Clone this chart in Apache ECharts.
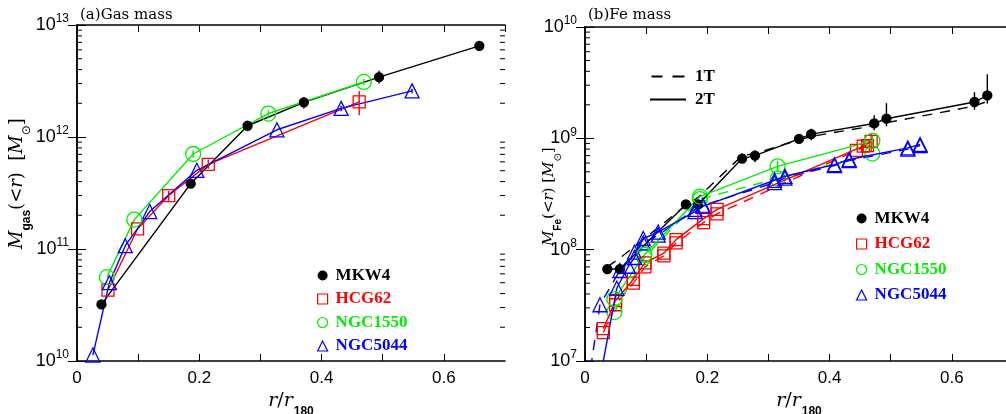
<!DOCTYPE html>
<html><head><meta charset="utf-8">
<script src="https://cdn.jsdelivr.net/npm/echarts@6/dist/echarts.min.js"></script>
<style>html,body{margin:0;padding:0;background:#fff}#c{width:1006px;height:414px}</style>
</head><body><div id="c"></div>
<script>
// ---------------- tick labels ----------------
const xTickLabels = ['0', '0.2', '0.4', '0.6'];
const gasExponents = [10, 11, 12, 13];
const feExponents = [7, 8, 9, 10];
const seriesNames = ['MKW4', 'HCG62', 'NGC1550', 'NGC5044'];

// ---------------- (a) gas mass ----------------
const gasMKW4_r = [0.040, 0.186, 0.279, 0.371, 0.494, 0.658];
const gasMKW4_m = [3.2e10, 3.83e11, 1.26e12, 2.04e12, 3.42e12, 6.5e12];
const gasHCG62_r = [0.0507, 0.099, 0.150, 0.2147, 0.4615];
const gasHCG62_m = [4.3e10, 1.51e11, 3.0e11, 5.7e11, 2.06e12];
const gasNGC1550_r = [0.049, 0.0937, 0.190, 0.313, 0.469];
const gasNGC1550_m = [5.6e10, 1.83e11, 7.05e11, 1.62e12, 3.1e12];
const gasNGC5044_r = [0.026, 0.053, 0.079, 0.119, 0.196, 0.327, 0.432, 0.548];
const gasNGC5044_m = [1.13e10, 5.0e10, 1.07e11, 2.16e11, 5.04e11, 1.16e12, 1.8e12, 2.58e12];
// error bars [r, low, high]
const gasErrMKW4 = [[0.279, 1.18e12, 1.35e12], [0.371, 1.8e12, 2.28e12], [0.494, 3.0e12, 3.9e12]];
const gasErrHCG62 = [[0.4615, 1.56e12, 2.58e12], [0.150, 2.7e11, 3.3e11], [0.2147, 5.2e11, 6.3e11]];
const gasErrNGC1550 = [[0.469, 2.9e12, 3.3e12], [0.313, 1.5e12, 1.75e12], [0.190, 6.5e11, 7.6e11]];
const gasErrNGC5044 = [[0.548, 2.45e12, 2.7e12], [0.432, 1.7e12, 1.9e12]];

// ---------------- (b) Fe mass ----------------
const feMKW4_r = [0.0365, 0.057, 0.165, 0.185, 0.257, 0.278, 0.350, 0.370, 0.473, 0.493, 0.637, 0.658];
const feMKW4_2T = [6.7e7, 6.7e7, 2.55e8, 2.55e8, 6.58e8, 7.0e8, 9.9e8, 1.09e9, 1.36e9, 1.5e9, 2.12e9, 2.43e9];
const feMKW4_1T = [7.0e7, 8.4e7, 2.5e8, 2.95e8, 7.0e8, 7.3e8, 9.7e8, 1.04e9, 1.3e9, 1.38e9, 1.95e9, 2.15e9];
const feErrMKW4 = [[0.257, 6.1e8, 7.3e8], [0.278, 6.1e8, 7.8e8], [0.350, 9.1e8, 1.08e9], [0.370, 9.6e8, 1.22e9],
                   [0.473, 1.18e9, 1.61e9], [0.493, 1.28e9, 2.07e9], [0.637, 1.81e9, 2.6e9], [0.658, 2.05e9, 3.76e9]];

const feHCG62_r2 = [0.030, 0.050, 0.079, 0.098, 0.129, 0.149, 0.194, 0.216, 0.455, 0.468];
const feHCG62_2T = [1.95e7, 3.5e7, 5.4e7, 7.6e7, 9.3e7, 1.23e8, 1.9e8, 2.3e8, 8.5e8, 9.4e8];
const feHCG62_r1 = [0.030, 0.050, 0.079, 0.098, 0.129, 0.149, 0.194, 0.216, 0.444, 0.462];
const feHCG62_1T = [1.8e7, 3.2e7, 5.0e7, 7.0e7, 8.8e7, 1.15e8, 1.75e8, 2.1e8, 7.8e8, 8.6e8];
const feErrHCG62 = [[0.468, 7.6e8, 1.1e9], [0.455, 7.4e8, 9.6e8]];

const feNGC1550_r = [0.048, 0.097, 0.188, 0.315, 0.470];
const feNGC1550_2T = [3.6e7, 9.0e7, 3.0e8, 5.6e8, 9.5e8];
const feNGC1550_1T = [2.75e7, 8.5e7, 2.85e8, 4.35e8, 7.3e8];
const feErrNGC1550 = [[0.315, 5.0e8, 6.3e8], [0.470, 8.6e8, 1.05e9]];

const feNGC5044_r2 = [0.022, 0.052, 0.071, 0.081, 0.0953, 0.1197, 0.180, 0.193, 0.310, 0.327, 0.408, 0.432, 0.528, 0.548];
const feNGC5044_2T = [5.8e6, 4.5e7, 7.1e7, 8.5e7, 1.26e8, 1.44e8, 2.2e8, 2.45e8, 4.2e8, 4.56e8, 5.8e8, 6.45e8, 8.2e8, 8.8e8];
const feNGC5044_r1 = [0.005, 0.0245, 0.057, 0.081, 0.0953, 0.1197, 0.180, 0.193, 0.310, 0.327, 0.408, 0.432, 0.528, 0.548];
const feNGC5044_1T = [6.0e6, 3.2e7, 6.5e7, 9.5e7, 1.15e8, 1.35e8, 2.3e8, 2.5e8, 4.0e8, 4.4e8, 5.7e8, 6.3e8, 8.0e8, 8.6e8];

// ---------------- styles ----------------
const COL = {MKW4: '#000000', HCG62: '#ff0000', NGC1550: '#00ee00', NGC5044: '#0000ff'};
const SYM = {
  MKW4: {symbol: 'circle', size: 9, fill: '#000000'},
  HCG62: {symbol: 'rect', size: 12, fill: 'rgba(0,0,0,0)'},
  NGC1550: {symbol: 'circle', size: 15, fill: 'rgba(0,0,0,0)'},
  NGC5044: {symbol: 'triangle', size: 14, fill: 'rgba(0,0,0,0)'}
};
const GAS_MIN = 1e10, GAS_MAX = 1e13, FE_MIN = 1e7, FE_MAX = 1e10;
const XMAX = 0.7;

function toData(r, m, min) {
  return r.map((x, i) => m[i] < min ? {value: [x, m[i]], symbol: 'none'} : [x, m[i]]);
}
function lineSeries(name, r, m, grid, dashed, markers, min, z) {
  const s = SYM[name];
  return {
    type: 'line', name: name, xAxisIndex: grid * 2, yAxisIndex: grid * 2,
    data: toData(r, m, min),
    symbol: markers ? s.symbol : 'none', symbolSize: s.size,
    itemStyle: {color: s.fill, borderColor: COL[name], borderWidth: 1.3},
    lineStyle: {color: COL[name], width: 1.4, type: dashed ? [10, 8] : 'solid'},
    emphasis: {disabled: true}, animation: false, z: z || 2, clip: true
  };
}
function errSeries(name, errs, grid) {
  return {
    type: 'custom', name: name, xAxisIndex: grid * 2, yAxisIndex: grid * 2, data: errs,
    encode: {x: 0, y: [1, 2]}, silent: true, animation: false, z: 3,
    renderItem: function (p, api) {
      const a = api.coord([api.value(0), api.value(1)]);
      const b = api.coord([api.value(0), api.value(2)]);
      return {type: 'line', shape: {x1: a[0], y1: a[1], x2: b[0], y2: b[1]},
              style: {stroke: COL[name], lineWidth: 1.4}};
    }
  };
}
function minorTickSeries(exps, grid) {
  const vals = [];
  for (let i = 0; i < exps.length - 1; i++) for (let k = 2; k <= 9; k++) vals.push([0, k * Math.pow(10, exps[i])]);
  return {
    type: 'custom', xAxisIndex: grid * 2, yAxisIndex: grid * 2, data: vals, silent: true, animation: false, z: 5,
    encode: {x: 0, y: 1},
    renderItem: function (p, api) {
      const a = api.coord([0, api.value(1)]);
      const b = api.coord([XMAX, api.value(1)]);
      return {type: 'group', children: [
        {type: 'line', shape: {x1: a[0], y1: a[1], x2: a[0] + 5, y2: a[1]}, style: {stroke: '#000', lineWidth: 1}},
        {type: 'line', shape: {x1: b[0] - 5, y1: b[1], x2: b[0], y2: b[1]}, style: {stroke: '#000', lineWidth: 1}}
      ]};
    }
  };
}

const axisLine = {show: true, lineStyle: {color: '#000', width: 1.5}};
function xAxes(grid) {
  const fmt = v => { const l = xTickLabels.find(t => Math.abs(parseFloat(t) - v) < 1e-6); return l === undefined ? '' : l; };
  const base = {type: 'value', gridIndex: grid, min: 0, max: XMAX, interval: 0.1, splitLine: {show: false},
                axisLine: axisLine, axisTick: {inside: true, length: 7, lineStyle: {color: '#000', width: 1}}};
  return [
    Object.assign({}, base, {position: 'bottom',
      axisLabel: {formatter: fmt, color: '#000', fontFamily: 'Liberation Sans', fontSize: 17, margin: 9, showMaxLabel: false},
      name: '{i|r}{n|/}{i|r}{sub|180}', nameLocation: 'middle', nameGap: 24,
      nameTextStyle: {rich: {
        i: {fontFamily: 'DejaVu Serif', fontStyle: 'italic', fontSize: 19, color: '#000', lineHeight: 22},
        n: {fontFamily: 'DejaVu Serif', fontSize: 19, color: '#000', lineHeight: 22},
        sub: {fontFamily: 'Liberation Sans', fontWeight: 'bold', fontSize: 12, color: '#000', verticalAlign: 'bottom', lineHeight: 12, padding: [0, 0, -5, 1]}
      }}}),
    Object.assign({}, base, {position: 'top', axisLabel: {show: false}})
  ];
}
function yAxes(grid, exps, min, max) {
  const fmt = v => { const e = Math.round(Math.log10(v)); return exps.includes(e) ? '{b|10}{s|' + e + '}' : ''; };
  const base = {type: 'log', logBase: 10, gridIndex: grid, min: min, max: max, splitLine: {show: false},
                axisLine: axisLine, axisTick: {inside: true, length: 9, lineStyle: {color: '#000', width: 1}}};
  return [
    Object.assign({}, base, {position: 'left', axisLabel: {formatter: fmt, margin: 8, rich: {
      b: {fontFamily: 'Liberation Sans', fontSize: 18, color: '#000', lineHeight: 24},
      s: {fontFamily: 'Liberation Sans', fontSize: 12, color: '#000', verticalAlign: 'top', lineHeight: 12}
    }}}),
    Object.assign({}, base, {position: 'right', axisLabel: {show: false}})
  ];
}

function legendFor(grid, left, top, gap) {
  const icons = {MKW4: 'circle', HCG62: 'rect', NGC1550: 'circle', NGC5044: 'triangle'};
  return {
    orient: 'vertical', left: left, top: top, itemWidth: 10, itemHeight: 10, itemGap: gap,
    selectedMode: false,
    textStyle: {fontFamily: 'Liberation Serif', fontWeight: 'bold', fontSize: 17, lineHeight: 16, padding: [0, 0, 0, 3]},
    data: seriesNames.map(n => ({
      name: n, icon: icons[n],
      itemStyle: {color: n === 'MKW4' ? '#000' : 'rgba(0,0,0,0)', borderColor: COL[n], borderWidth: n === 'MKW4' ? 0 : 1.2},
      textStyle: {color: COL[n]}
    }))
  };
}

const series = [
  minorTickSeries(gasExponents, 0),
  minorTickSeries(feExponents, 1),
  // (a)
  lineSeries('MKW4', gasMKW4_r, gasMKW4_m, 0, false, true, GAS_MIN, 2),
  lineSeries('HCG62', gasHCG62_r, gasHCG62_m, 0, false, true, GAS_MIN, 2),
  lineSeries('NGC1550', gasNGC1550_r, gasNGC1550_m, 0, false, true, GAS_MIN, 2),
  lineSeries('NGC5044', gasNGC5044_r, gasNGC5044_m, 0, false, true, GAS_MIN, 2),
  errSeries('MKW4', gasErrMKW4, 0), errSeries('HCG62', gasErrHCG62, 0),
  errSeries('NGC1550', gasErrNGC1550, 0), errSeries('NGC5044', gasErrNGC5044, 0),
  // (b) 1T dashed
  lineSeries('MKW4', feMKW4_r, feMKW4_1T, 1, true, false, FE_MIN, 2),
  lineSeries('HCG62', feHCG62_r1, feHCG62_1T, 1, true, true, FE_MIN, 2),
  lineSeries('NGC1550', feNGC1550_r, feNGC1550_1T, 1, true, true, FE_MIN, 2),
  lineSeries('NGC5044', feNGC5044_r1, feNGC5044_1T, 1, true, true, FE_MIN, 2),
  // (b) 2T solid
  lineSeries('MKW4', feMKW4_r, feMKW4_2T, 1, false, true, FE_MIN, 3),
  lineSeries('HCG62', feHCG62_r2, feHCG62_2T, 1, false, true, FE_MIN, 3),
  lineSeries('NGC1550', feNGC1550_r, feNGC1550_2T, 1, false, true, FE_MIN, 3),
  lineSeries('NGC5044', feNGC5044_r2, feNGC5044_2T, 1, false, true, FE_MIN, 3),
  errSeries('MKW4', feErrMKW4, 1), errSeries('HCG62', feErrHCG62, 1), errSeries('NGC1550', feErrNGC1550, 1),
  // legend-only series for 1T / 2T
  {type: 'line', name: '1T', xAxisIndex: 2, yAxisIndex: 2, data: [], symbol: 'none', itemStyle: {color: '#000'}, lineStyle: {color: '#000', type: [10, 8]}},
  {type: 'line', name: '2T', xAxisIndex: 2, yAxisIndex: 2, data: [], symbol: 'none', itemStyle: {color: '#000'}, lineStyle: {color: '#000'}}
];

function yNameRich(fs) {
  return {
    m: {fontFamily: 'DejaVu Serif', fontStyle: 'italic', fontSize: fs, fill: '#000'},
    sub: {fontFamily: 'Liberation Sans', fontWeight: 'bold', fontSize: Math.round(fs * 0.67), fill: '#000', verticalAlign: 'bottom', padding: [0, 0, -7, 0]},
    sun: {fontFamily: 'DejaVu Sans', fontSize: Math.round(fs * 0.67), fill: '#000', verticalAlign: 'bottom', padding: [0, 0, -7, 0]},
    n: {fontFamily: 'DejaVu Serif', fontSize: fs, fill: '#000'},
    i: {fontFamily: 'DejaVu Serif', fontStyle: 'italic', fontSize: fs, fill: '#000'}
  };
}

const option = {
  backgroundColor: '#fff',
  animation: false,
  title: [
    {text: '(a)Gas mass', left: 75, top: 3, textStyle: {fontFamily: 'DejaVu Serif', fontWeight: 'normal', fontSize: 15, color: '#000'}},
    {text: '(b)Fe mass', left: 583, top: 3, textStyle: {fontFamily: 'DejaVu Serif', fontWeight: 'normal', fontSize: 15, color: '#000'}}
  ],
  grid: [
    {left: 77, top: 25, width: 428, height: 336, outerBoundsMode: 'none', containLabel: false},
    {left: 585, top: 27, width: 428, height: 334, outerBoundsMode: 'none', containLabel: false}
  ],
  xAxis: xAxes(0).concat(xAxes(1)),
  yAxis: yAxes(0, gasExponents, GAS_MIN, GAS_MAX).concat(yAxes(1, feExponents, FE_MIN, FE_MAX)),
  legend: [
    legendFor(0, 312, 262, 6.5),
    legendFor(1, 851, 205, 8.5),
    {orient: 'vertical', left: 645, top: 63, itemWidth: 36, itemHeight: 2, itemGap: 6, selectedMode: false,
     textStyle: {fontFamily: 'Liberation Serif', fontWeight: 'bold', fontSize: 17, lineHeight: 16, color: '#000', padding: [0, 0, 0, 4]},
     data: [
       {name: '1T', icon: 'path://M0 0H11V2H0Z M21 0H33V2H21Z', itemStyle: {color: '#000', borderWidth: 0}},
       {name: '2T', icon: 'path://M0 0H36V2H0Z', itemStyle: {color: '#000', borderWidth: 0}}
     ]}
  ],
  graphic: [
    {type: 'text', x: 17, y: 249, rotation: Math.PI / 2,
     style: {text: '{m|M}{sub|gas}{n|(<}{i|r}{n|)  [}{m|M}{sun|⊙}{n|]}', rich: yNameRich(18), align: 'left', verticalAlign: 'middle'}},
    {type: 'text', x: 549, y: 246, rotation: Math.PI / 2,
     style: {text: '{m|M}{sub|Fe}{n|(<}{i|r}{n|) [}{m|M}{sun|⊙}{n|]}', rich: yNameRich(15), align: 'left', verticalAlign: 'middle'}}
  ],
  series: series
};

const chart = echarts.init(document.getElementById('c'), null, {renderer: 'canvas'});
chart.setOption(option);
</script>
</body></html>
